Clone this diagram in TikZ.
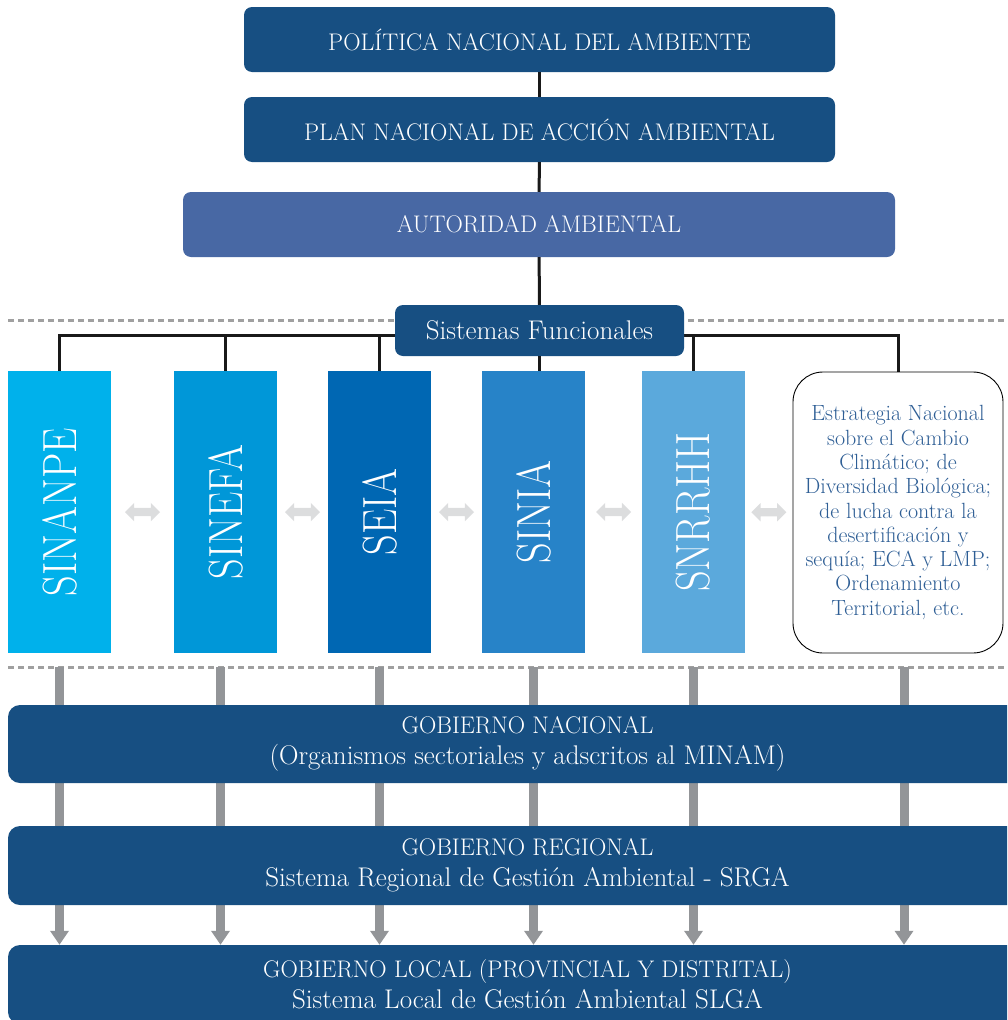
\documentclass[tikz,border=0pt]{standalone}
\usepackage{fontspec}
\usepackage{graphicx}
\usetikzlibrary{shapes.arrows, arrows.meta, backgrounds, calc}

\definecolor{darkblue}{HTML}{174F82}
\definecolor{authblue}{HTML}{4868A4}
\definecolor{cSinanpe}{HTML}{00B1EB}
\definecolor{cSinefa}{HTML}{0097D8}
\definecolor{cSeia}{HTML}{0067B3}
\definecolor{cSinia}{HTML}{2783C8}
\definecolor{cSnrrhh}{HTML}{5BA9DC}
\definecolor{textblue}{HTML}{2E5E95}
\definecolor{bargray}{HTML}{939598}
\definecolor{arrgray}{HTML}{DCDDDE}
\definecolor{sepgray}{HTML}{A0A0A0}

\newcommand{\vlab}[1]{\rotatebox{90}{\scalebox{0.84}[1]{#1}}}
\newcommand{\govsub}[1]{{\fontsize{27}{31}\selectfont #1}}

\tikzstyle{header} = [rectangle, rounded corners=8pt, minimum width=591pt, minimum height=65pt, text centered, fill=darkblue, text=white, font=\fontsize{24}{28}\selectfont]
\tikzstyle{sysbar} = [rectangle, minimum width=103pt, minimum height=282pt, inner sep=0pt, text=white, font=\fontsize{48}{50}\selectfont]
\tikzstyle{strategy} = [rectangle, rounded corners=30pt, minimum width=210pt, minimum height=281pt, draw=black, line width=0.9pt, fill=white, text=textblue, align=center, font=\fontsize{22}{24.3}\selectfont]
\tikzstyle{govbox} = [rectangle, rounded corners=12pt, minimum width=1039pt, minimum height=79pt, fill=darkblue, text=white, align=center, font=\fontsize{24}{31}\selectfont]
\tikzstyle{dblarr} = [double arrow, fill=arrgray, inner xsep=0pt, inner ysep=4pt, minimum height=35pt, minimum width=18pt, double arrow head extend=5pt]
\tikzstyle{connector} = [line width=3pt, black!90]
\tikzstyle{sepline} = [line width=3pt, sepgray, dash pattern=on 6pt off 4pt]
\tikzstyle{downbar} = [line width=9pt, bargray, -{Triangle[width=18pt,length=14pt]}]

\begin{document}
\begin{tikzpicture}[x=1pt, y=-1pt]
\clip (0,0) rectangle (1007,1020);

\node (politica) [header] at (539.5,39.5) {POLÍTICA NACIONAL DEL AMBIENTE};
\node (plan) [header] at (539.5,129.5) {PLAN NACIONAL DE ACCIÓN AMBIENTAL};
\node (autoridad) [header, fill=authblue, minimum width=712pt] at (539,224.5) {AUTORIDAD AMBIENTAL};
\node (sistemas) [header, minimum width=289pt, minimum height=51pt, font=\fontsize{27}{30}\selectfont] at (539.5,330.5) {Sistemas Funcionales};

\node (sinanpe) [sysbar, fill=cSinanpe] at (59.5,512) {\vlab{SINANPE}};
\node (sinefa) [sysbar, fill=cSinefa] at (225.5,512) {\vlab{SINEFA}};
\node (seia) [sysbar, fill=cSeia] at (379.5,512) {\vlab{SEIA}};
\node (sinia) [sysbar, fill=cSinia] at (533.5,512) {\vlab{SINIA}};
\node (snrrhh) [sysbar, fill=cSnrrhh] at (693.5,512) {\vlab{SNRRHH}};
\node (estrategia) [strategy] at (898,512.5) {Estrategia Nacional\\sobre el Cambio\\Climático; de\\Diversidad Biológica;\\de lucha contra la\\desertificación y\\sequía; ECA y LMP;\\Ordenamiento\\Territorial, etc.};

\node (da1) [dblarr] at ($(sinanpe.east)!0.5!(sinefa.west)$) {};
\node (da2) [dblarr] at ($(sinefa.east)!0.5!(seia.west)$) {};
\node (da3) [dblarr] at ($(seia.east)!0.5!(sinia.west)$) {};
\node (da4) [dblarr] at ($(sinia.east)!0.5!(snrrhh.west)$) {};
\node (da5) [dblarr] at ($(snrrhh.east)!0.5!(estrategia.west)$) {};

\node (nacional) [govbox, minimum height=78pt] at (527.5,744) {GOBIERNO NACIONAL\\\govsub{(Organismos sectoriales y adscritos al MINAM)}};
\node (regional) [govbox] at (527.5,865.5) {GOBIERNO REGIONAL\\\govsub{Sistema Regional de Gestión Ambiental - SRGA}};
\node (local) [govbox] at (527.5,984.5) {GOBIERNO LOCAL (PROVINCIAL Y DISTRITAL)\\\govsub{Sistema Local de Gestión Ambiental SLGA}};

\coordinate (bus) at (0,335);
\coordinate (sep) at (0,667);

\draw [connector] (politica) -- (plan);
\draw [connector] (plan) -- (autoridad);
\draw [connector] (autoridad) -- (sistemas);
\draw [connector] (sistemas.south) -- (sistemas.south |- sinia.north);

\begin{pgfonlayer}{background}
%separators
\draw [sepline] (8,320) -- (1007,320);
\draw [sepline] (8,667) -- (1007,667);
%bus to the systems
\draw [connector] (sinanpe.north) -- (sinanpe.north |- bus) -- (estrategia.north |- bus) -- (estrategia.north);
\draw [connector] (sinefa.north) -- (sinefa.north |- bus);
\draw [connector] (seia.north) -- (seia.north |- bus);
\draw [connector] (snrrhh.north) -- (snrrhh.north |- bus);
%bars down to the governments
\draw [downbar] (sinanpe.south |- sep) -- (sinanpe.south |- local.north);
\draw [downbar] ([xshift=-5pt]sinefa.south |- sep) -- ([xshift=-5pt]sinefa.south |- local.north);
\draw [downbar] (seia.south |- sep) -- (seia.south |- local.north);
\draw [downbar] (sinia.south |- sep) -- (sinia.south |- local.north);
\draw [downbar] (snrrhh.south |- sep) -- (snrrhh.south |- local.north);
\draw [downbar] ([xshift=6pt]estrategia.south |- sep) -- ([xshift=6pt]estrategia.south |- local.north);
\end{pgfonlayer}

\end{tikzpicture}
\end{document}
